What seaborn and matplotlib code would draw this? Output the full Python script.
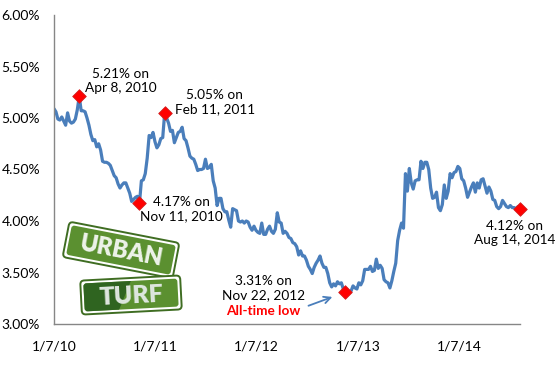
import matplotlib
matplotlib.use("Agg")
import numpy as np
import pandas as pd
import matplotlib.pyplot as plt
from matplotlib.patches import FancyBboxPatch, Polygon
from matplotlib.transforms import Affine2D
import seaborn as sns

# weekly 30-year fixed rate (%), one list per year, Thursdays starting 1/7/10
rates_2010 = [5.09, 5.06, 4.99, 4.98, 5.01, 4.97, 4.93, 5.05, 4.97, 4.95, 4.96, 4.99,
              5.08, 5.21, 5.07, 5.07, 5.06, 5.00, 4.93, 4.84, 4.78, 4.79, 4.72, 4.75,
              4.69, 4.58, 4.57, 4.57, 4.56, 4.54, 4.49, 4.44, 4.42, 4.36, 4.32, 4.35,
              4.37, 4.37, 4.32, 4.27, 4.19, 4.21, 4.23, 4.24, 4.17, 4.39, 4.40, 4.46,
              4.61, 4.83, 4.81, 4.86]
rates_2011 = [4.77, 4.71, 4.74, 4.80, 4.81, 5.05, 5.00, 4.95, 4.87, 4.88, 4.76, 4.81,
              4.86, 4.87, 4.91, 4.80, 4.78, 4.71, 4.63, 4.61, 4.60, 4.55, 4.49, 4.50,
              4.50, 4.51, 4.60, 4.51, 4.52, 4.55, 4.39, 4.32, 4.15, 4.22, 4.22, 4.12,
              4.09, 4.09, 4.01, 3.94, 4.12, 4.11, 4.10, 4.00, 3.99, 4.00, 3.98, 4.00,
              3.99, 3.94, 3.91, 3.95]
rates_2012 = [3.91, 3.89, 3.88, 3.98, 3.87, 3.87, 3.92, 3.95, 3.90, 3.88, 3.92, 4.08,
              3.99, 3.98, 3.88, 3.90, 3.88, 3.84, 3.83, 3.79, 3.78, 3.75, 3.67, 3.71,
              3.66, 3.66, 3.62, 3.56, 3.53, 3.49, 3.55, 3.59, 3.62, 3.66, 3.59, 3.55,
              3.55, 3.49, 3.40, 3.36, 3.39, 3.37, 3.41, 3.39, 3.40, 3.34, 3.31, 3.32,
              3.31, 3.32, 3.37, 3.35]
rates_2013 = [3.34, 3.40, 3.38, 3.42, 3.53, 3.53, 3.53, 3.56, 3.51, 3.52, 3.63, 3.54,
              3.57, 3.54, 3.43, 3.41, 3.40, 3.35, 3.42, 3.51, 3.59, 3.81, 3.91, 3.98,
              3.93, 4.46, 4.29, 4.51, 4.37, 4.31, 4.39, 4.40, 4.40, 4.58, 4.51, 4.57,
              4.57, 4.50, 4.32, 4.22, 4.23, 4.28, 4.13, 4.10, 4.16, 4.35, 4.22, 4.29,
              4.46, 4.42, 4.47, 4.48]
rates_2014 = [4.53, 4.51, 4.41, 4.39, 4.32, 4.23, 4.28, 4.33, 4.37, 4.28, 4.37, 4.32,
              4.40, 4.41, 4.34, 4.27, 4.33, 4.29, 4.21, 4.20, 4.14, 4.12, 4.14, 4.20,
              4.17, 4.14, 4.13, 4.15, 4.13, 4.13, 4.12, 4.14, 4.12]

# highlighted points
hl_dates = ["2010-04-08", "2010-11-11", "2011-02-10", "2012-11-22", "2014-08-14"]
hl_rates = [5.21, 4.17, 5.05, 3.31, 4.12]
hl_labels = ["5.21% on\nApr 8, 2010", "4.17% on\nNov 11, 2010", "5.05% on\nFeb 11, 2011",
             "3.31% on\nNov 22, 2012", "4.12% on\nAug 14, 2014"]

tick_dates = ["2010-01-07", "2011-01-07", "2012-01-07", "2013-01-07", "2014-01-07"]
tick_labels = ["1/7/10", "1/7/11", "1/7/12", "1/7/13", "1/7/14"]
y_ticks = [3.0, 3.5, 4.0, 4.5, 5.0, 5.5, 6.0]

rates = rates_2010 + rates_2011 + rates_2012 + rates_2013 + rates_2014
df = pd.DataFrame({"date": pd.date_range("2010-01-07", periods=len(rates), freq="7D"),
                   "rate": rates})
hl = pd.DataFrame({"date": pd.to_datetime(hl_dates), "rate": hl_rates})

sns.set_style("white")
plt.rcParams["font.family"] = ["Lato", "DejaVu Sans"]

LINE = "#4a7ebb"
AXC = "#868686"

fig = plt.figure(figsize=(5.57, 3.84), dpi=100)
ax = fig.add_axes([54 / 557, 1 - 324 / 384, (520 - 54) / 557, (324 - 15) / 384])

sns.lineplot(data=df, x="date", y="rate", ax=ax, color=LINE, lw=2.3)
sns.scatterplot(data=hl, x="date", y="rate", ax=ax, marker="D", s=48,
                color="#ff0000", edgecolor="#d02020", linewidth=0.6, zorder=5,
                clip_on=False)

ax.set_xlim(df["date"].iloc[0], df["date"].iloc[-1])
ax.set_ylim(3.0, 6.0)
ax.set_yticks(y_ticks)
ax.set_yticklabels([f"{v:.2f}%" for v in y_ticks])
ax.set_xticks(pd.to_datetime(tick_dates))
ax.set_xticklabels(tick_labels)
ax.set_xlabel("")
ax.set_ylabel("")
for s in ["top", "right"]:
    ax.spines[s].set_visible(False)
for s in ["left", "bottom"]:
    ax.spines[s].set_color(AXC)
    ax.spines[s].set_linewidth(1.0)
ax.tick_params(axis="both", direction="out", length=4, width=1.0, color=AXC,
               labelsize=10, labelcolor="#000000")
ax.tick_params(axis="y", pad=6)
ax.tick_params(axis="x", pad=8)

# annotation text positions (layout only)
label_pos = [("2010-09-05", 5.36), ("2011-04-12", 4.117), ("2011-08-09", 5.155),
             ("2012-01-31", 3.35), ("2014-07-26", 3.883)]
for (d, y), txt in zip(label_pos, hl_labels):
    ax.text(pd.Timestamp(d), y, txt, ha="center", va="center", fontsize=9.8,
            linespacing=1.25, color="#000000")
ax.text(pd.Timestamp("2012-01-31"), 3.129, "All-time low", ha="center", va="center",
        fontsize=9.8, fontweight="bold", color="#ff0000")
ax.annotate("", xy=(pd.Timestamp("2012-10-16"), 3.272),
            xytext=(pd.Timestamp("2012-07-03"), 3.168),
            arrowprops=dict(arrowstyle="->", color=LINE, lw=1.3, mutation_scale=12))

# logo overlay in pixel coordinates
lax = fig.add_axes([0, 0, 1, 1], zorder=10)
lax.set_xlim(0, 557)
lax.set_ylim(384, 0)
lax.axis("off")


def sign(cx, cy, w, h, angle, text, fs, dark=False):
    tr = Affine2D().rotate_deg_around(cx, cy, angle) + lax.transData
    outer = FancyBboxPatch((cx - w / 2, cy - h / 2), w, h,
                           boxstyle="round,pad=0,rounding_size=4",
                           fc="#ffffff", ec="#3f6d22", lw=1.4, transform=tr)
    inner = FancyBboxPatch((cx - w / 2 + 3, cy - h / 2 + 3), w - 6, h - 6,
                           boxstyle="round,pad=0,rounding_size=3",
                           fc="#5b9030", ec="none", transform=tr)
    lax.add_patch(outer)
    lax.add_patch(inner)
    if dark:
        shade = Polygon([(cx - w / 2, cy - h / 2), (cx - w / 2 + 0.52 * w, cy - h / 2),
                         (cx - w / 2 + 0.36 * w, cy + h / 2), (cx - w / 2, cy + h / 2)],
                        closed=True, fc="#2f6420", ec="none", transform=tr)
        lax.add_patch(shade)
        shade.set_clip_path(inner)
    lax.text(cx, cy + 1, text, ha="center", va="center", fontsize=fs,
             fontweight="heavy", color="#eef3ea" if not dark else "#dfe7e0",
             rotation=-angle, rotation_mode="anchor")


sign(121, 250, 112, 36, 11, "URBAN", 17)
sign(131, 295, 100, 34, -3, "TURF", 18, dark=True)

fig.savefig("out.png", dpi=100)
